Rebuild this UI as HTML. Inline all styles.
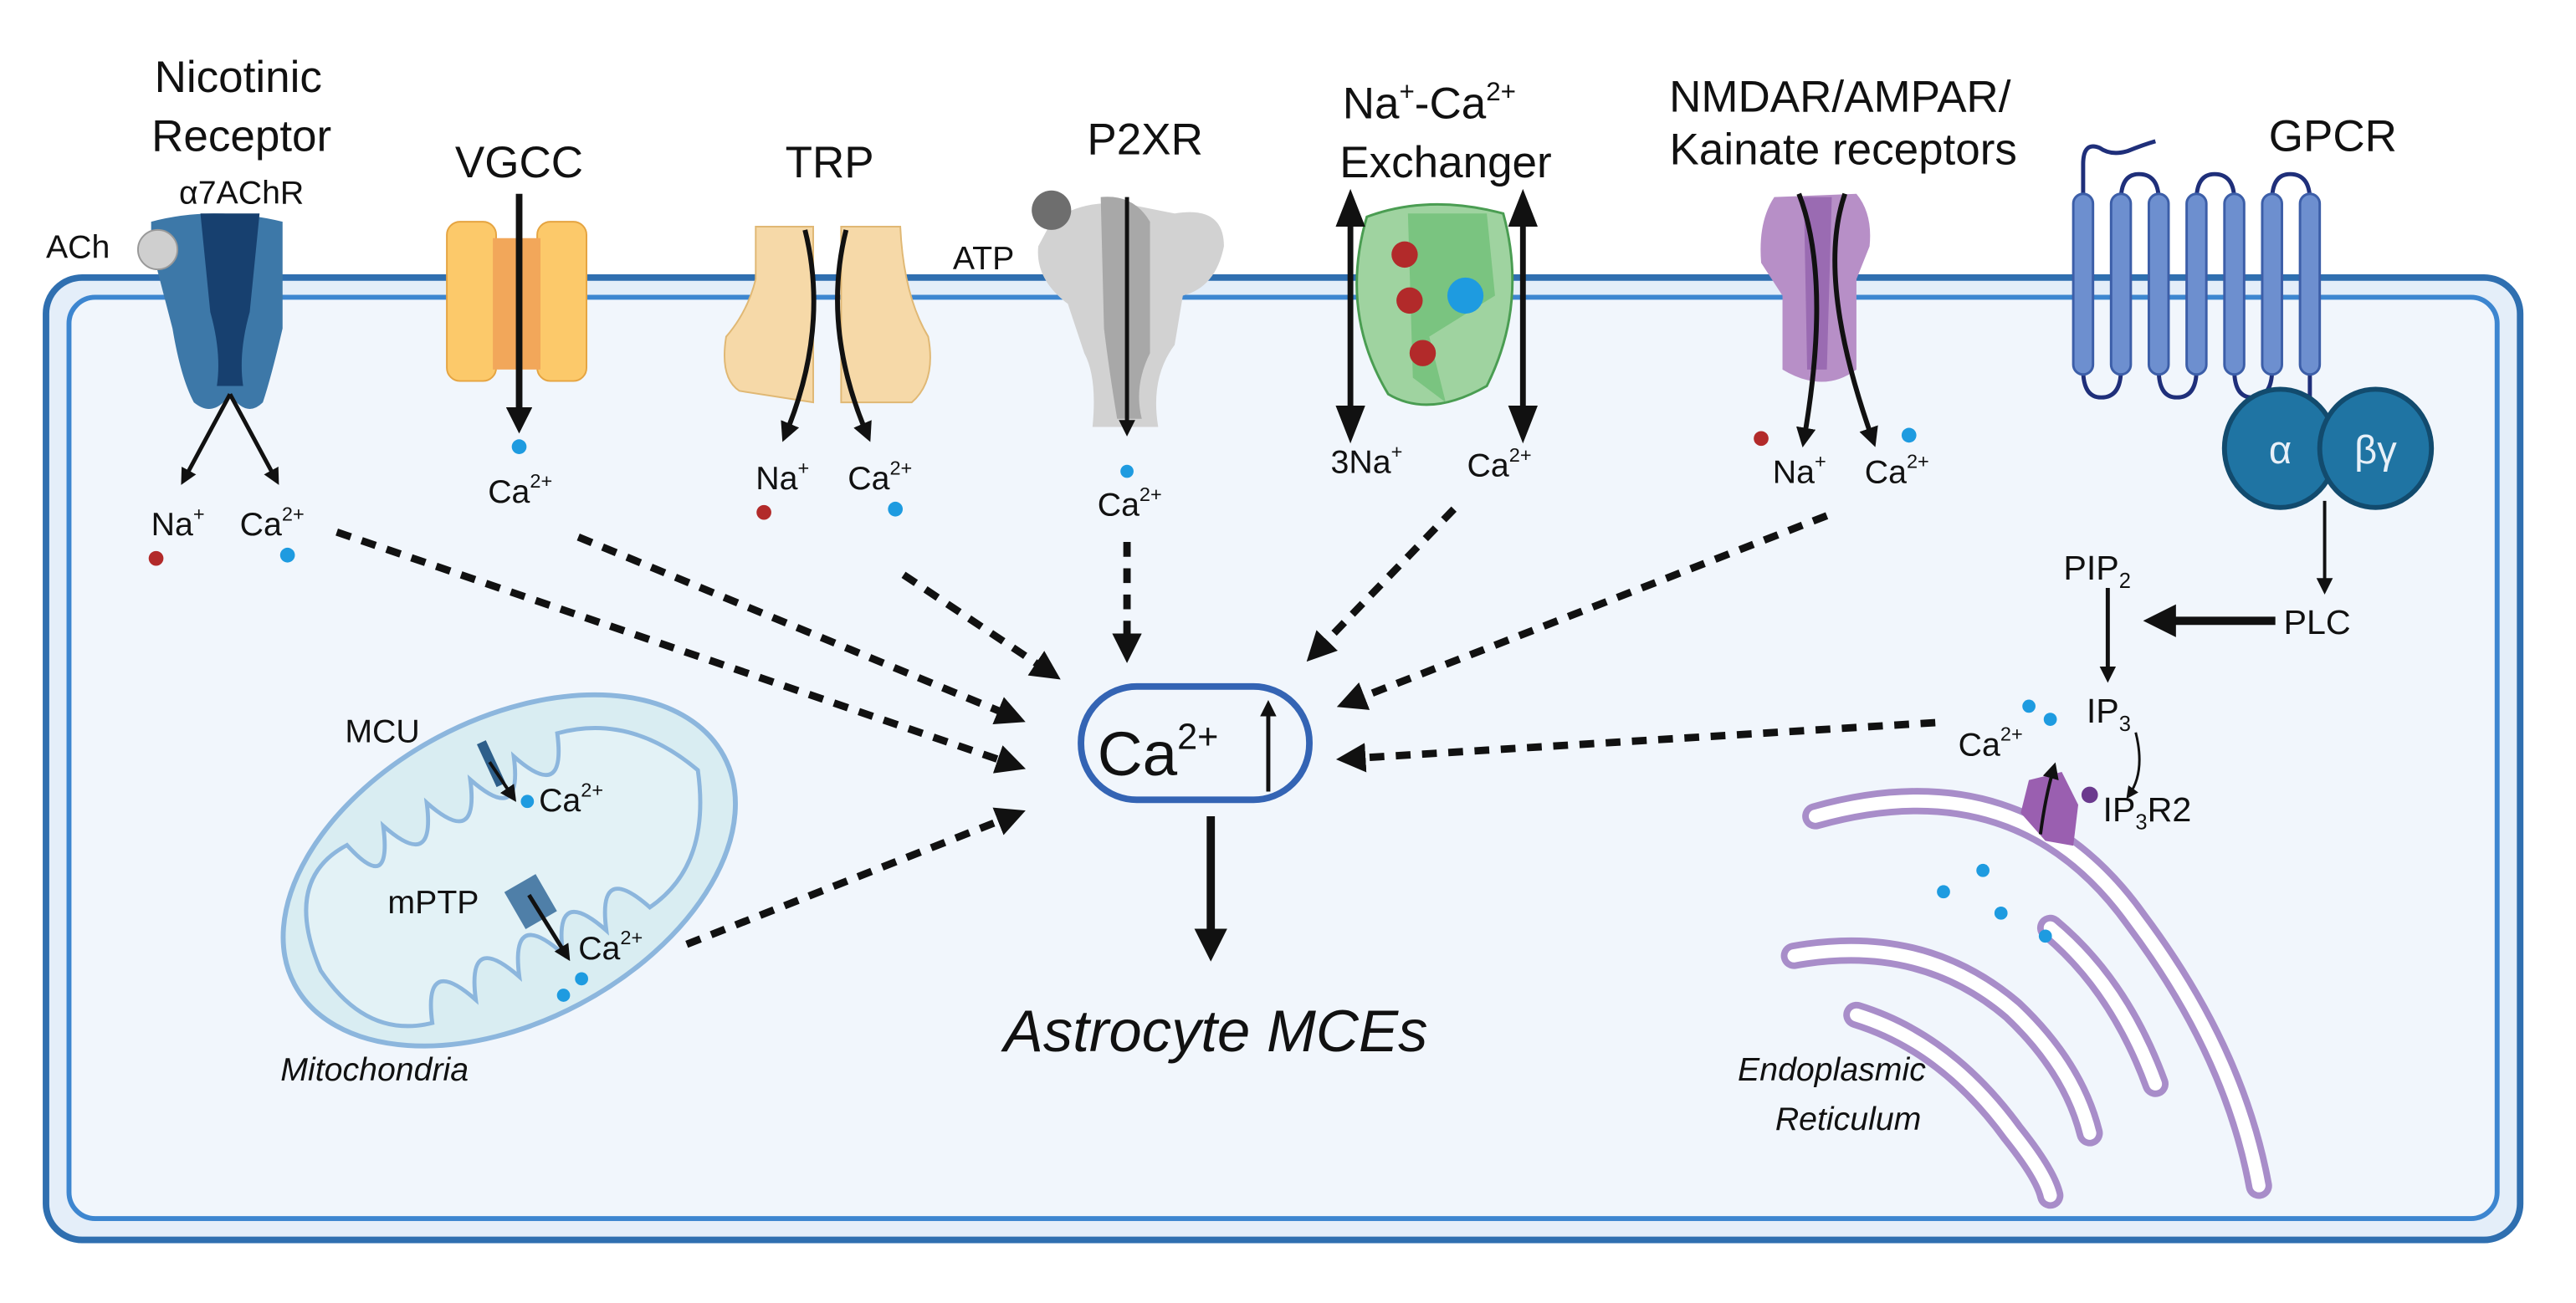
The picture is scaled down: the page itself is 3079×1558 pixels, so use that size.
<!DOCTYPE html>
<html><head><meta charset="utf-8"><style>
html,body{margin:0;padding:0;background:#fff;}
svg{display:block;}
text{font-family:"Liberation Sans",sans-serif;fill:#111;}
</style></head><body>
<svg width="3079" height="1558" viewBox="0 0 1568 793.4" preserveAspectRatio="none" xmlns="http://www.w3.org/2000/svg">
<defs>
<marker id="ah" markerWidth="4" markerHeight="4" refX="2.5" refY="2" orient="auto" markerUnits="strokeWidth"><path d="M0,0 L4,2 L0,4 z" fill="#111"/></marker>
<marker id="ah2" markerWidth="5" markerHeight="5" refX="3" refY="2.5" orient="auto" markerUnits="strokeWidth"><path d="M0,0 L5,2.5 L0,5 z" fill="#111"/></marker>
</defs>
<rect width="1568" height="793.4" fill="#fff"/>
<!-- cell -->
<rect x="28" y="169" width="1506" height="586" rx="22" fill="#e4eef9" stroke="#2f6fb0" stroke-width="4"/>
<rect x="42" y="181" width="1478" height="561" rx="16" fill="#f1f6fc" stroke="#3d86d0" stroke-width="3"/>

<!-- Titles -->
<g font-size="27" text-anchor="middle">
<text x="145" y="56">Nicotinic</text>
<text x="147" y="92">Receptor</text>
<text x="316" y="108">VGCC</text>
<text x="505" y="108">TRP</text>
<text x="697" y="94">P2XR</text>
<text x="870" y="72">Na<tspan font-size="16" dy="-11">+</tspan><tspan dy="11">-Ca</tspan><tspan font-size="16" dy="-11">2+</tspan></text>
<text x="880" y="108">Exchanger</text>
<text x="1120" y="68">NMDAR/AMPAR/</text>
<text x="1122" y="100">Kainate receptors</text>
<text x="1420" y="92">GPCR</text>
</g>
<text x="147" y="124" font-size="20" text-anchor="middle">α7AChR</text>
<text x="28" y="157" font-size="20">ACh</text>

<!-- Nicotinic receptor -->
<path d="M92,135 Q130,125 172,135 L172,200 Q165,230 160,245 Q150,255 140,240 Q130,255 118,245 Q110,230 105,200 L92,150 z" fill="#3d78a8"/>
<path d="M122,130 L158,130 L152,190 Q145,215 148,235 L132,235 Q135,215 128,190 z" fill="#17406f"/>
<circle cx="96" cy="152" r="12" fill="#cfcfcf" stroke="#999" stroke-width="1"/>
<line x1="140" y1="240" x2="112" y2="292" stroke="#111" stroke-width="2.5" marker-end="url(#ah)"/>
<line x1="140" y1="240" x2="168" y2="292" stroke="#111" stroke-width="2.5" marker-end="url(#ah)"/>
<text x="92" y="326" font-size="20">Na<tspan font-size="12" dy="-9">+</tspan></text>
<text x="146" y="326" font-size="20">Ca<tspan font-size="12" dy="-9">2+</tspan></text>
<circle cx="95" cy="340" r="4.5" fill="#b22a2a"/>
<circle cx="175" cy="338" r="4.5" fill="#1e9be0"/>

<!-- VGCC -->
<rect x="272" y="135" width="30" height="97" rx="8" fill="#fcc96a" stroke="#e5a441"/>
<rect x="327" y="135" width="30" height="97" rx="8" fill="#fcc96a" stroke="#e5a441"/>
<rect x="300" y="145" width="29" height="80" fill="#f2a75a"/>
<line x1="316" y1="118" x2="316" y2="258" stroke="#111" stroke-width="4" marker-end="url(#ah)"/>
<circle cx="316" cy="272" r="4.5" fill="#1e9be0"/>
<text x="297" y="306" font-size="20">Ca<tspan font-size="12" dy="-9">2+</tspan></text>

<!-- TRP -->
<path d="M460,138 L495,138 L495,245 L450,238 Q438,230 442,205 Q455,190 460,170 z" fill="#f6d9a8" stroke="#e0b874"/>
<path d="M512,138 L548,138 Q550,180 565,205 Q570,232 555,245 L512,245 z" fill="#f6d9a8" stroke="#e0b874"/>
<path d="M490,140 Q505,200 478,265" fill="none" stroke="#111" stroke-width="3" marker-end="url(#ah)"/>
<path d="M515,140 Q500,200 528,265" fill="none" stroke="#111" stroke-width="3" marker-end="url(#ah)"/>
<text x="460" y="298" font-size="20">Na<tspan font-size="12" dy="-9">+</tspan></text>
<text x="516" y="298" font-size="20">Ca<tspan font-size="12" dy="-9">2+</tspan></text>
<circle cx="465" cy="312" r="4.5" fill="#b22a2a"/>
<circle cx="545" cy="310" r="4.5" fill="#1e9be0"/>

<!-- P2XR -->
<path d="M640,135 Q660,120 690,125 L715,130 Q745,125 745,150 Q740,175 720,180 L715,210 Q700,230 705,260 L665,260 Q668,230 660,215 L650,185 Q630,170 632,150 z" fill="#d2d2d2"/>
<path d="M670,120 Q690,118 700,135 L700,215 Q690,235 695,255 L680,255 Q675,225 672,200 z" fill="#a8a8a8"/>
<circle cx="640" cy="128" r="12" fill="#6e6e6e"/>
<text x="580" y="164" font-size="20">ATP</text>
<line x1="686" y1="120" x2="686" y2="262" stroke="#111" stroke-width="2.5" marker-end="url(#ah)"/>
<circle cx="686" cy="287" r="4" fill="#1e9be0"/>
<text x="668" y="314" font-size="20">Ca<tspan font-size="12" dy="-9">2+</tspan></text>

<!-- NCX -->
<path d="M832,132 Q870,118 915,130 Q930,185 905,235 Q870,255 845,240 Q815,190 832,132 z" fill="#9fd3a0" stroke="#4a9d52" stroke-width="1.5"/>
<path d="M857,130 L860,230 L880,245 L870,205 L910,180 L905,130 z" fill="#6bbd72" opacity="0.7"/>
<circle cx="855" cy="155" r="8" fill="#b22a2a"/>
<circle cx="858" cy="183" r="8" fill="#b22a2a"/>
<circle cx="866" cy="215" r="8" fill="#b22a2a"/>
<circle cx="892" cy="180" r="11" fill="#1e9be0"/>
<line x1="822" y1="135" x2="822" y2="250" stroke="#111" stroke-width="3.5"/>
<path d="M813,138 L822,115 L831,138 z M813,247 L822,270 L831,247 z" fill="#111"/>
<line x1="927" y1="135" x2="927" y2="250" stroke="#111" stroke-width="3.5"/>
<path d="M918,138 L927,115 L936,138 z M918,247 L927,270 L936,247 z" fill="#111"/>
<text x="810" y="288" font-size="20">3Na<tspan font-size="12" dy="-9">+</tspan></text>
<text x="893" y="290" font-size="20">Ca<tspan font-size="12" dy="-9">2+</tspan></text>

<!-- NMDA -->
<path d="M1080,120 L1130,118 Q1140,130 1138,150 L1130,170 L1130,225 Q1110,240 1085,225 L1085,180 L1072,160 Q1070,135 1080,120 z" fill="#b78fc7"/>
<path d="M1098,120 L1115,120 L1112,225 L1100,225 z" fill="#9a6bb2"/>
<path d="M1095,118 Q1115,170 1098,268" fill="none" stroke="#111" stroke-width="3" marker-end="url(#ah)"/>
<path d="M1123,118 Q1105,170 1140,268" fill="none" stroke="#111" stroke-width="3" marker-end="url(#ah)"/>
<circle cx="1072" cy="267" r="4.5" fill="#b22a2a"/>
<circle cx="1162" cy="265" r="4.5" fill="#1e9be0"/>
<text x="1079" y="294" font-size="20">Na<tspan font-size="12" dy="-9">+</tspan></text>
<text x="1135" y="294" font-size="20">Ca<tspan font-size="12" dy="-9">2+</tspan></text>

<!-- GPCR -->
<g fill="none" stroke="#1f2f7a" stroke-width="2.5">
<path d="M1268,122 L1268,100 Q1268,86 1278,90 Q1285,95 1295,92 Q1305,88 1312,86"/>
<path d="M1291,122 Q1291,106 1302,106 Q1314,106 1314,122"/>
<path d="M1337,122 Q1337,106 1348,106 Q1360,106 1360,122"/>
<path d="M1383,122 Q1383,106 1394,106 Q1406,106 1406,122"/>
<path d="M1268,225 Q1268,242 1279,242 Q1291,242 1291,225"/>
<path d="M1314,225 Q1314,242 1325,242 Q1337,242 1337,225"/>
<path d="M1360,225 Q1360,242 1371,242 Q1383,242 1383,225"/>
<path d="M1406,228 L1406,262 L1418,273"/>
</g>
<g fill="#6d8fcf" stroke="#3c5ea8" stroke-width="1.5">
<rect x="1262" y="118" width="12" height="110" rx="6"/>
<rect x="1285" y="118" width="12" height="110" rx="6"/>
<rect x="1308" y="118" width="12" height="110" rx="6"/>
<rect x="1331" y="118" width="12" height="110" rx="6"/>
<rect x="1354" y="118" width="12" height="110" rx="6"/>
<rect x="1377" y="118" width="12" height="110" rx="6"/>
<rect x="1400" y="118" width="12" height="110" rx="6"/>
</g>
<ellipse cx="1388" cy="273" rx="34" ry="36" fill="#1f74a3" stroke="#124b6e" stroke-width="3"/>
<ellipse cx="1446" cy="273" rx="34" ry="36" fill="#1f74a3" stroke="#124b6e" stroke-width="3"/>
<text x="1388" y="282" font-size="24" text-anchor="middle" style="fill:#e8f0f8">α</text>
<text x="1446" y="282" font-size="24" text-anchor="middle" style="fill:#e8f0f8">βγ</text>
<line x1="1415" y1="305" x2="1415" y2="358" stroke="#111" stroke-width="2" marker-end="url(#ah2)"/>
<text x="1390" y="386" font-size="21">PLC</text>
<line x1="1385" y1="378" x2="1312" y2="378" stroke="#111" stroke-width="5" marker-end="url(#ah)"/>
<text x="1256" y="353" font-size="21">PIP<tspan font-size="13" dy="5">2</tspan></text>
<line x1="1283" y1="358" x2="1283" y2="412" stroke="#111" stroke-width="2.5" marker-end="url(#ah)"/>
<text x="1270" y="440" font-size="21">IP<tspan font-size="13" dy="5">3</tspan></text>
<path d="M1300,446 Q1306,470 1296,484" fill="none" stroke="#111" stroke-width="1.5" marker-end="url(#ah2)"/>

<!-- ER -->
<g fill="none" stroke-linecap="round">
<g stroke="#a88dc9" stroke-width="16">
<path d="M1105,497 Q1230,462 1300,560 Q1360,640 1375,722"/>
<path d="M1092,582 Q1170,568 1225,615 Q1262,650 1272,690"/>
<path d="M1130,618 Q1185,635 1225,690 Q1245,715 1248,728"/>
<path d="M1248,565 Q1290,600 1312,660"/>
</g>
<g stroke="#ffffff" stroke-width="8">
<path d="M1105,497 Q1230,462 1300,560 Q1360,640 1375,722"/>
<path d="M1092,582 Q1170,568 1225,615 Q1262,650 1272,690"/>
<path d="M1130,618 Q1185,635 1225,690 Q1245,715 1248,728"/>
<path d="M1248,565 Q1290,600 1312,660"/>
</g>
</g>
<path d="M1235,475 L1255,470 L1265,490 L1262,515 L1245,512 L1230,495 z" fill="#9a5fb0"/>
<path d="M1242,508 Q1245,485 1250,468" fill="none" stroke="#111" stroke-width="2" marker-end="url(#ah2)"/>
<circle cx="1272" cy="484" r="5" fill="#6b3a8e"/>
<text x="1280" y="500" font-size="21">IP<tspan font-size="13" dy="5">3</tspan><tspan dy="-5">R2</tspan></text>
<text x="1192" y="460" font-size="20">Ca<tspan font-size="12" dy="-9">2+</tspan></text>
<circle cx="1235" cy="430" r="4" fill="#1e9be0"/>
<circle cx="1248" cy="438" r="4" fill="#1e9be0"/>
<circle cx="1207" cy="530" r="4" fill="#1e9be0"/>
<circle cx="1183" cy="543" r="4" fill="#1e9be0"/>
<circle cx="1218" cy="556" r="4" fill="#1e9be0"/>
<circle cx="1245" cy="570" r="4" fill="#1e9be0"/>
<text x="1115" y="658" font-size="20" font-style="italic" text-anchor="middle">Endoplasmic</text>
<text x="1125" y="688" font-size="20" font-style="italic" text-anchor="middle">Reticulum</text>

<!-- Mitochondria -->
<g transform="rotate(-28 310 530)">
<ellipse cx="310" cy="530" rx="148" ry="92" fill="#d9edf2" stroke="#8cb6dd" stroke-width="3"/>
<path d="M180,530 Q185,470 230,470 Q240,510 255,470 Q270,510 285,470 Q300,510 315,470 Q330,510 345,470 Q360,510 375,470 Q420,480 440,530 Q420,585 375,590 Q360,550 345,590 Q330,550 315,590 Q300,550 285,590 Q270,550 255,590 Q240,550 225,590 Q185,580 180,530 z" fill="#e3f2f6" stroke="#8cb6dd" stroke-width="2.5"/>
</g>
<line x1="293" y1="452" x2="305" y2="478" stroke="#2e5f8a" stroke-width="6"/>
<path d="M298,464 L312,485" stroke="#111" stroke-width="2" marker-end="url(#ah2)"/>
<circle cx="321" cy="488" r="4" fill="#1e9be0"/>
<text x="210" y="452" font-size="20">MCU</text>
<text x="328" y="494" font-size="20">Ca<tspan font-size="12" dy="-9">2+</tspan></text>
<rect x="312" y="536" width="22" height="26" fill="#4f7fa8" transform="rotate(-30 323 549)"/>
<line x1="322" y1="545" x2="345" y2="582" stroke="#111" stroke-width="2.5" marker-end="url(#ah)"/>
<text x="236" y="556" font-size="20">mPTP</text>
<text x="352" y="584" font-size="20">Ca<tspan font-size="12" dy="-9">2+</tspan></text>
<circle cx="354" cy="596" r="4" fill="#1e9be0"/>
<circle cx="343" cy="606" r="4" fill="#1e9be0"/>
<text x="228" y="658" font-size="20" font-style="italic" text-anchor="middle">Mitochondria</text>

<!-- Dashed arrows -->
<g stroke="#111" stroke-width="4.5" stroke-dasharray="9,7" fill="none" marker-end="url(#ah)">
<line x1="205" y1="324" x2="618" y2="466"/>
<line x1="352" y1="327" x2="618" y2="437"/>
<line x1="550" y1="350" x2="640" y2="410"/>
<line x1="686" y1="330" x2="686" y2="397"/>
<line x1="885" y1="310" x2="800" y2="398"/>
<line x1="1112" y1="314" x2="820" y2="428"/>
<line x1="1178" y1="440" x2="820" y2="462"/>
<line x1="418" y1="575" x2="618" y2="496"/>
</g>

<!-- Central Ca -->
<rect x="658" y="418" width="139" height="69" rx="34" fill="#f1f6fc" stroke="#3464b4" stroke-width="4"/>
<text x="668" y="472" font-size="38">Ca<tspan font-size="22" dy="-16">2+</tspan></text>
<line x1="772" y1="482" x2="772" y2="430" stroke="#111" stroke-width="2.5" marker-end="url(#ah)"/>
<line x1="737" y1="497" x2="737" y2="578" stroke="#111" stroke-width="5" marker-end="url(#ah)"/>
<text x="740" y="640" font-size="36" font-style="italic" text-anchor="middle">Astrocyte MCEs</text>
</svg>
</body></html>
